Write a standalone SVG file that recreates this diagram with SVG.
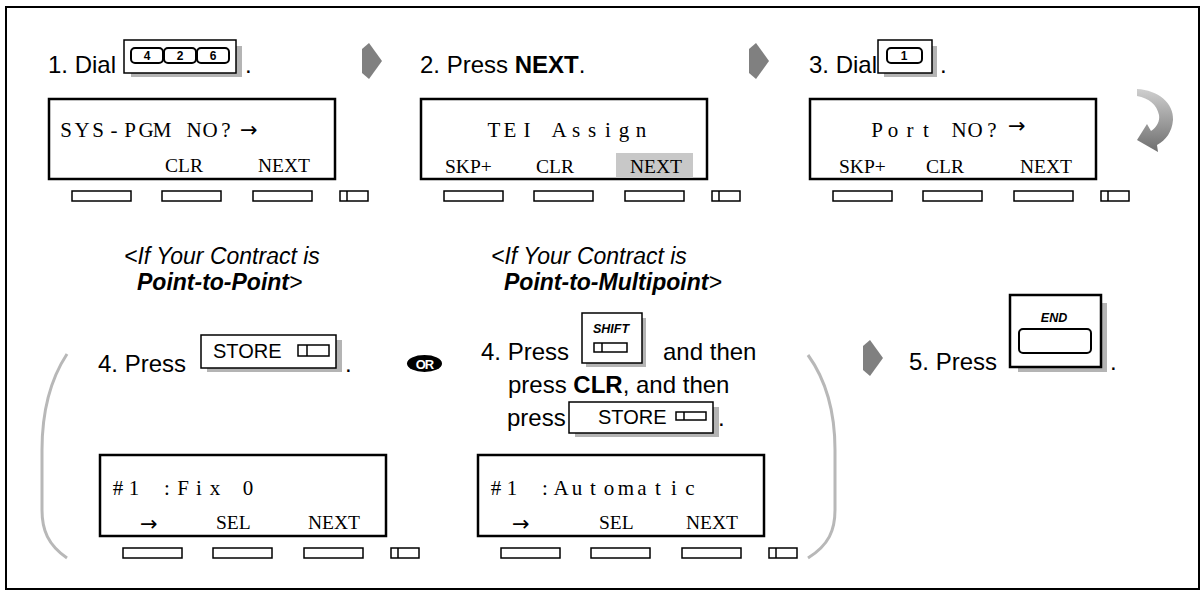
<svg xmlns="http://www.w3.org/2000/svg" width="1203" height="594" viewBox="0 0 1203 594">
<style>
.t{font-family:"Liberation Sans",Arial,sans-serif;font-size:24px;fill:#000}
.b{font-weight:bold}
.it{font-family:"Liberation Sans",Arial,sans-serif;font-size:23px;font-style:italic;fill:#000}
.lcd{fill:#fff;stroke:#000;stroke-width:2.5}
.sk{fill:#fff;stroke:#000;stroke-width:1.5}
.m1{font-family:"Liberation Serif","Times New Roman",serif;font-size:21px;text-anchor:middle;fill:#000}
.m2{font-family:"Liberation Serif","Times New Roman",serif;font-size:19.5px;fill:#000}
.ar{font-family:"DejaVu Sans",sans-serif;font-size:21px;fill:#000}
.box{fill:#fff;stroke:#000;stroke-width:1.5}
.sh{fill:#b4b4b4}
.key{fill:#fff;stroke:#000;stroke-width:2}
.kd{font-family:"Liberation Sans",Arial,sans-serif;font-size:12px;font-weight:bold;text-anchor:middle}
.kl{font-family:"Liberation Sans",Arial,sans-serif;font-size:20px}
.blk{fill:#808080}
.par{fill:none;stroke:#b8b8b8;stroke-width:3}
.lab{font-family:"Liberation Sans",Arial,sans-serif;font-size:12.5px;font-weight:bold;font-style:italic;text-anchor:middle}
</style>
<defs>
<linearGradient id="cg" x1="0" y1="0" x2="0" y2="1">
<stop offset="0" stop-color="#cfcfcf"/>
<stop offset="1" stop-color="#6e6e6e"/>
</linearGradient>
<g id="keys">
<rect class="sk" x="23" y="0" width="59" height="10"/>
<rect class="sk" x="113" y="0" width="59" height="10"/>
<rect class="sk" x="204" y="0" width="59" height="10"/>
<rect class="sk" x="291" y="0" width="28" height="10"/>
<line x1="298" y1="0" x2="298" y2="10" stroke="#000" stroke-width="1.5"/>
</g>
<polygon id="blkarrow" class="blk" points="0,6 7,0 20,18 7,36 0,30"/>
</defs>

<rect x="6" y="7" width="1193" height="582" fill="#fff" stroke="#000" stroke-width="2"/>

<g id="step1">
<text class="t" x="48" y="73">1. Dial</text>
<rect class="sh" x="131" y="46" width="111" height="31"/>
<rect class="box" x="124" y="40" width="112" height="33"/>
<rect class="key" x="131" y="48" width="32" height="15" rx="4"/>
<rect class="key" x="164" y="48" width="32" height="15" rx="4"/>
<rect class="key" x="197" y="48" width="32" height="15" rx="4"/>
<text class="kd" x="147" y="60">4</text>
<text class="kd" x="180" y="60">2</text>
<text class="kd" x="213" y="60">6</text>
<text class="t" x="245" y="73">.</text>
</g>

<g id="lcd1">
<rect class="lcd" x="49" y="99" width="286" height="80"/>
<text class="m1" x="66 82 98 114 130 146 162 178 194 210 226" y="137">SYS-PGM NO?</text>
<text class="ar" x="240" y="137">→</text>
<text class="m2" x="165" y="172">CLR</text>
<text class="m2" x="258" y="172">NEXT</text>
<use href="#keys" x="49" y="191"/>
</g>

<g id="step2">
<text class="t" x="420" y="73">2. Press <tspan class="b">NEXT</tspan>.</text>
</g>

<g id="lcd2">
<rect class="lcd" x="421" y="99" width="286" height="80"/>
<rect x="616" y="153" width="77" height="25" fill="#c8c8c8"/>
<text class="m1" x="494 510 527 543 559 576 592 608 624 641" y="137">TEI Assign</text>
<text class="m2" x="445" y="173">SKP+</text>
<text class="m2" x="536" y="173">CLR</text>
<text class="m2" x="630" y="173">NEXT</text>
<use href="#keys" x="421" y="191"/>
</g>

<g id="step3">
<text class="t" x="809" y="73">3. Dial</text>
<rect class="sh" x="884" y="46" width="53" height="31"/>
<rect class="box" x="878" y="40" width="54" height="33"/>
<rect class="key" x="887" y="48" width="35" height="15" rx="4"/>
<text class="kd" x="904" y="60">1</text>
<text class="t" x="940" y="73">.</text>
</g>

<g id="lcd3">
<rect class="lcd" x="810" y="99" width="286" height="80"/>
<text class="m1" x="877 893 910 926 943 959 975 992" y="137">Port NO?</text>
<text class="ar" x="1008" y="133">→</text>
<text class="m2" x="839" y="173">SKP+</text>
<text class="m2" x="926" y="173">CLR</text>
<text class="m2" x="1020" y="173">NEXT</text>
<use href="#keys" x="810" y="191"/>
</g>

<g id="loop-arrow">
<path fill="url(#cg)" d="M1137,89 C1158,90 1174,103 1173,120 C1172,132 1166,140 1157,145 L1158,152 L1137,140 L1147,124 L1151,131 C1157,127 1160,121 1159,115 C1157,105 1149,98 1137,96 Z"/>
</g>

<g id="connectors">
<use href="#blkarrow" x="362" y="43"/>
<use href="#blkarrow" x="749" y="43"/>
<use href="#blkarrow" x="863" y="340"/>
<path class="par" d="M67,354 C50,380 42,410 42,450 L42,510 C42,530 48,545 67,558"/>
<path class="par" d="M808,355 C826,380 835,410 835,450 L835,510 C835,530 829,545 808,558"/>
</g>

<g id="cond1">
<text class="it" x="124" y="264">&lt;If Your Contract is</text>
<text class="it" x="137" y="290"><tspan class="b">Point-to-Point</tspan>&gt;</text>
</g>

<g id="cond2">
<text class="it" x="491" y="264">&lt;If Your Contract is</text>
<text class="it" x="504" y="290"><tspan class="b">Point-to-Multipoint</tspan>&gt;</text>
</g>

<g id="step4a">
<text class="t" x="98" y="372">4. Press</text>
<rect class="sh" x="207" y="340" width="135" height="32"/>
<rect class="box" x="201" y="335" width="135" height="33"/>
<text class="kl" x="213" y="358">STORE</text>
<rect class="sk" x="298" y="345" width="31" height="11"/>
<line x1="307" y1="345" x2="307" y2="356" stroke="#000" stroke-width="1.5"/>
<text class="t" x="345" y="372">.</text>
</g>

<g id="or">
<ellipse cx="424.5" cy="363.5" rx="17.5" ry="8.5" fill="#000"/>
<text x="424.5" y="368.5" text-anchor="middle" font-family="Liberation Sans, Arial, sans-serif" font-size="13" font-weight="bold" fill="#fff" letter-spacing="-1">OR</text>
</g>

<g id="step4b">
<text class="t" x="481" y="360">4. Press</text>
<rect class="sh" x="586" y="318" width="60" height="49"/>
<rect class="box" x="582" y="313" width="60" height="50"/>
<text class="lab" x="611" y="333">SHIFT</text>
<rect class="sk" x="594" y="343" width="33" height="9"/>
<line x1="602" y1="343" x2="602" y2="352" stroke="#000" stroke-width="1.5"/>
<text class="t" x="663" y="360">and then</text>
<text class="t" x="508" y="393">press <tspan class="b">CLR</tspan>, and then</text>
<text class="t" x="507" y="426">press</text>
<rect class="sh" x="575" y="407" width="144" height="30"/>
<rect class="box" x="569" y="402" width="144" height="31"/>
<text class="kl" x="598" y="424">STORE</text>
<rect class="sk" x="676" y="412" width="30" height="8"/>
<line x1="684" y1="412" x2="684" y2="420" stroke="#000" stroke-width="1.5"/>
<text class="t" x="718" y="426">.</text>
</g>

<g id="step5">
<text class="t" x="909" y="370">5. Press</text>
<rect class="sh" x="1018" y="303" width="89" height="69"/>
<rect x="1010" y="295" width="91" height="72" fill="#fff" stroke="#000" stroke-width="2.5"/>
<text class="lab" x="1054" y="322">END</text>
<rect x="1019" y="329" width="72" height="24" rx="4" fill="#fff" stroke="#000" stroke-width="2"/>
<text class="t" x="1110" y="370">.</text>
</g>

<g id="lcd4">
<rect class="lcd" x="100" y="455" width="286" height="81"/>
<text class="m1" x="118 134 150 167 183 199 215 231 248" y="495">#1 :Fix 0</text>
<text class="ar" x="140" y="531">→</text>
<text class="m2" x="216" y="529">SEL</text>
<text class="m2" x="308" y="529">NEXT</text>
<use href="#keys" x="100" y="548"/>
</g>

<g id="lcd5">
<rect class="lcd" x="478" y="455" width="286" height="81"/>
<text class="m1" x="496 512 528 545 561 577 593 609 626 642 658 674 690" y="495">#1 :Automatic</text>
<text class="ar" x="512" y="531">→</text>
<text class="m2" x="599" y="529">SEL</text>
<text class="m2" x="686" y="529">NEXT</text>
<use href="#keys" x="478" y="548"/>
</g>
</svg>
